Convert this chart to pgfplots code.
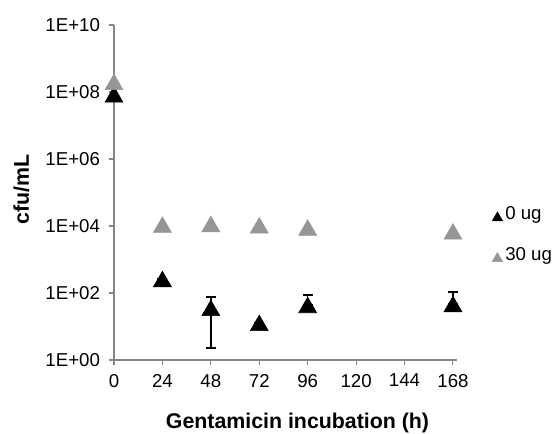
\documentclass[border=0pt]{standalone}
\usepackage{fontspec}
\setmainfont{Liberation Sans}
\usepackage{pgfplots}
\usepackage{pgfplotstable}
\pgfplotsset{compat=1.18}
\definecolor{axgray}{RGB}{134,134,134}
\definecolor{dosegray}{RGB}{150,150,150}

% 0 ug: mean cfu/mL and error bar extents
\pgfplotstableread{
x   y      ep   em
0   8.5e7  0    0
24  262    0    0
48  36     40   33.7
72  12.8   0    0
96  44     43   0
168 47     60   0
}\zeroug

% 30 ug
\pgfplotstableread{
x   y
0   2.0e8
24  1.1e4
48  1.15e4
72  1.05e4
96  9.0e3
168 6.9e3
}\thirtyug

\begin{document}
\begin{tikzpicture}
\useasboundingbox (-85.5pt,-54.75pt) rectangle (329.25pt,270pt);
\begin{semilogyaxis}[
  at={(0pt,0pt)}, anchor=south west,
  scale only axis, width=257.25pt, height=251.25pt,
  xmin=0, xmax=170, ymin=1, ymax=1e10,
  axis x line*=bottom, axis y line*=left,
  axis line style={axgray, line width=0.8pt, -},
  xtick={0,24,48,72,96,120,144,168},
  xticklabels={0,24,48,72,96,120,144,168},
  ytick={1,1e2,1e4,1e6,1e8,1e10},
  yticklabels={1E+00,1E+02,1E+04,1E+06,1E+08,1E+10},
  yminorticks=false, xminorticks=false,
  tick align=outside, major tick length=4pt,
  tick style={axgray, line width=0.8pt},
  tick label style={font=\fontsize{14}{16}\selectfont, black},
  yticklabel style={xshift=-3pt},
  xticklabel style={yshift=-3pt},
  xlabel={Gentamicin incubation (h)},
  ylabel={cfu/mL},
  label style={font=\bfseries\fontsize{16}{19}\selectfont},
  xlabel style={at={(axis description cs:0.535,0)}, anchor=base, yshift=-51pt},
  ylabel style={at={(axis description cs:0,0.51)}, anchor=base, yshift=63.75pt},
  clip=false,
  legend style={at={(axis description cs:1.102,0.4587)}, anchor=north west,
    draw=none, fill=none, font=\fontsize{14}{16}\selectfont,
    row sep=17.5pt, column sep=2pt, inner sep=0pt,
    nodes={inner sep=0pt, text height=10pt, text depth=3pt}},
  legend cell align=left,
  legend image code/.code={\draw[#1, mark size=4.5pt] plot coordinates {(0pt,0pt)};},
]

\addplot[only marks, mark=triangle*, color=black, mark size=7.8pt,
  mark options={yshift=-1.95pt},
  error bars/.cd, y dir=both, y explicit,
  error bar style={line width=1.2pt, black},
  error mark=-,
  error mark options={rotate=90, mark size=3.75pt, line width=1.2pt, black}]
  table[x=x, y=y, y error plus=ep, y error minus=em] {\zeroug};
\addlegendentry{0 ug}

\addplot[only marks, mark=triangle*, color=dosegray, mark size=7.8pt,
  mark options={yshift=-1.95pt}]
  table[x=x, y=y] {\thirtyug};
\addlegendentry{30 ug}

\end{semilogyaxis}
\end{tikzpicture}
\end{document}
